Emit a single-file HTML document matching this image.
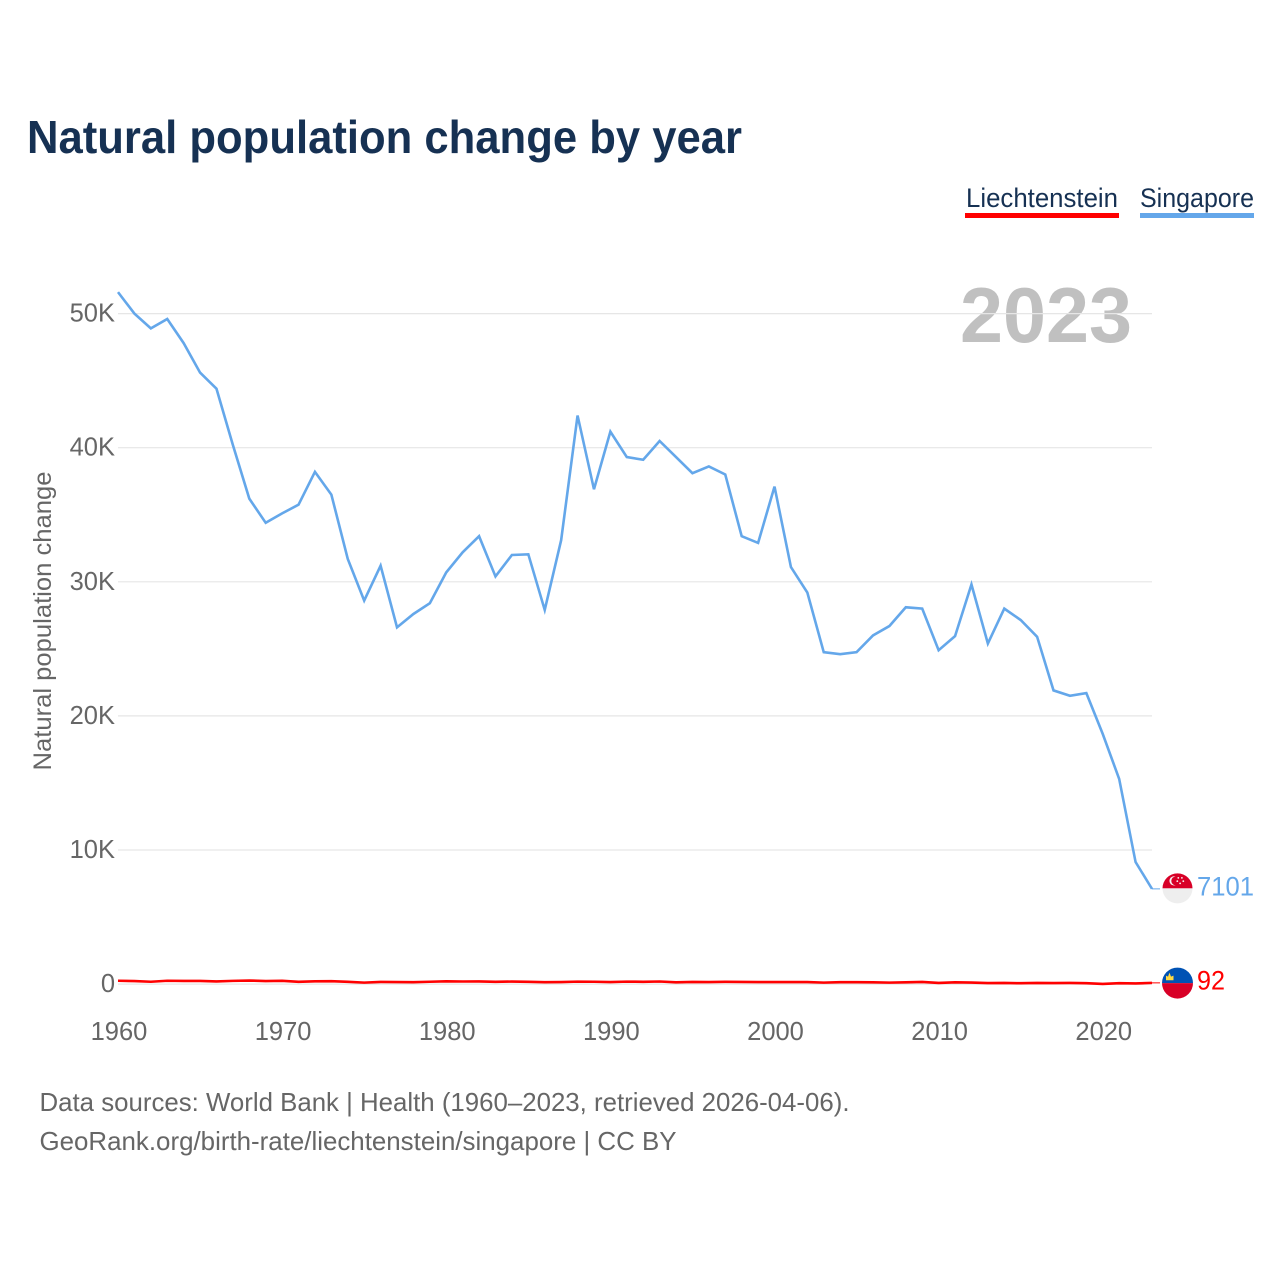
<!DOCTYPE html>
<html lang="en">
<head>
<meta charset="utf-8">
<title>Natural population change by year</title>
<style>
html,body{margin:0;padding:0;background:#fff;width:1280px;height:1280px;overflow:hidden}
svg{display:block;font-family:"Liberation Sans",sans-serif}
</style>
</head>
<body>
<svg id="chart" width="1280" height="1280" viewBox="0 0 1280 1280" xmlns="http://www.w3.org/2000/svg">
  <rect width="1280" height="1280" fill="#ffffff"/>
  <text x="27" y="153" font-size="46" font-weight="700" fill="#163153" textLength="715" lengthAdjust="spacingAndGlyphs">Natural population change by year</text>

  <g>
    <text x="966" y="207" font-size="27" fill="#163153" textLength="152" lengthAdjust="spacingAndGlyphs">Liechtenstein</text>
    <rect x="965" y="213" width="154" height="5" fill="#ff0000"/>
  </g>
  <g>
    <text x="1140" y="207" font-size="27" fill="#163153" textLength="114" lengthAdjust="spacingAndGlyphs">Singapore</text>
    <rect x="1140" y="213" width="114" height="5" fill="#64a7ea"/>
  </g>

  <text x="960" y="342" font-size="78" font-weight="700" fill="#c0c0c0" textLength="172" lengthAdjust="spacingAndGlyphs">2023</text>
  <text transform="translate(51 621) rotate(-90)" text-anchor="middle" font-size="25" fill="#666666" textLength="299" lengthAdjust="spacingAndGlyphs">Natural population change</text>

  <g id="grid"></g>
  <g id="yticks"></g>
  <g id="xticks"></g>
  <g id="series"></g>
  <g id="ends"></g>

  <text x="39.5" y="1111" font-size="26" fill="#666666" textLength="810" lengthAdjust="spacingAndGlyphs">Data sources: World Bank | Health (1960–2023, retrieved 2026-04-06).</text>
  <text x="39.5" y="1150" font-size="26" fill="#666666" textLength="637" lengthAdjust="spacingAndGlyphs">GeoRank.org/birth-rate/liechtenstein/singapore | CC BY</text>
</svg>
<script>
const startYear = 1960;
const singaporeValues = [
  51600,50000,48900,49600,47800,45600,44400,40200,36200,34400,
  35100,35750,38200,36500,31700,28600,31200,26600,27600,28400,
  30700,32200,33400,30400,32000,32050,27900,33100,42400,36900,
  41200,39300,39100,40500,39300,38100,38600,38000,33400,32900,
  37100,31100,29200,24750,24600,24750,26000,26700,28100,28000,
  24900,25950,29800,25400,28000,27150,25900,21900,21500,21700,
  18650,15300,9100,7101
];
const liechtensteinValues = [
  250,230,175,250,235,235,200,240,265,230,
  245,170,210,215,170,110,160,155,140,175,
  210,195,200,170,190,170,140,155,185,175,
  155,185,170,195,130,165,155,170,160,150,
  150,150,150,110,145,145,130,110,135,160,
  90,130,115,75,85,65,85,75,85,70,
  10,70,50,92
];
const yTickValues = [0,10000,20000,30000,40000,50000];
const yTickLabels = ["0","10K","20K","30K","40K","50K"];
const xTickYears = [1960,1970,1980,1990,2000,2010,2020];

const NS = "http://www.w3.org/2000/svg";
function xScale(year){ return 118 + (year - 1960) * (1152 - 118) / 63; }
function yScale(v){ return 984.1 - v * (984.1 - 313.6) / 50000; }
function mk(tag, attrs, parent){
  const el = document.createElementNS(NS, tag);
  for (const k in attrs) el.setAttribute(k, attrs[k]);
  if (parent) parent.appendChild(el);
  return el;
}
function linePath(values){
  return values.map(function(v,i){
    return (i ? "L" : "M") + xScale(startYear + i).toFixed(2) + " " + yScale(v).toFixed(2);
  }).join(" ");
}

const grid = document.getElementById("grid");
const yticks = document.getElementById("yticks");
yTickValues.forEach(function(v,i){
  const y = yScale(v);
  const ln = mk("line",{x1:118,x2:1152,y1:y,y2:y,stroke:"#e6e6e6","stroke-width":1.2},grid);
  
  
  const t = mk("text",{x:115,y:y+8,"text-anchor":"end","font-size":25.5,fill:"#666666"},yticks);
  
  
  t.textContent = yTickLabels[i];
});

const xticks = document.getElementById("xticks");
xTickYears.forEach(function(yr){
  const t = mk("text",{x:xScale(yr)+1,y:1040,"text-anchor":"middle","font-size":25.5,fill:"#666666"},xticks);
  
  
  t.textContent = yr;
});

const series = document.getElementById("series");
const blue = mk("path",{d:linePath(singaporeValues),fill:"none",stroke:"#64a7ea","stroke-width":2.6,"stroke-linejoin":"miter"},series);


const red = mk("path",{d:linePath(liechtensteinValues),fill:"none",stroke:"#ff0000","stroke-width":2.6,"stroke-linejoin":"round"},series);



const ends = document.getElementById("ends");
const lastYear = startYear + singaporeValues.length - 1;
const endX = xScale(lastYear);
const flagX = 1177.5;

/* Singapore end marker */
const sv = singaporeValues[singaporeValues.length - 1];
const sy = yScale(sv);
const sLead = mk("line",{x1:endX,x2:1160,y1:sy,y2:sy,stroke:"#64a7ea","stroke-width":1},ends);


const sFlag = mk("g",{transform:"translate("+flagX+" "+(sy-0.5)+")"},ends);


mk("path",{d:"M-15 0A15 15 0 0 1 15 0Z",fill:"#d80027"},sFlag);
mk("path",{d:"M-15 0A15 15 0 0 0 15 0Z",fill:"#eeeeee"},sFlag);
mk("circle",{cx:-3.5,cy:-7.5,r:4.6,fill:"#f6f6f6"},sFlag);
mk("circle",{cx:-1.8,cy:-7.5,r:4.4,fill:"#d80027"},sFlag);
[[0,-10.5],[3.6,-10.5],[5,-7.2],[1.8,-5],[-1,-7.2]].forEach(function(p){
  mk("circle",{cx:p[0]+0.8,cy:p[1],r:0.9,fill:"#f6f6f6"},sFlag);
});
const sLabel = mk("text",{x:1197,y:sy+6.5,"font-size":27,fill:"#64a7ea",textLength:57,lengthAdjust:"spacingAndGlyphs"},ends);


sLabel.textContent = sv;

/* Liechtenstein end marker */
const lv = liechtensteinValues[liechtensteinValues.length - 1];
const ly = yScale(lv);
const lLead = mk("line",{x1:endX,x2:1160,y1:ly,y2:ly,stroke:"#ff0000","stroke-width":1},ends);


const lFlag = mk("g",{transform:"translate("+flagX+" "+(ly+0.2)+")"},ends);


mk("path",{d:"M-15.5 0A15.5 15.5 0 0 1 15.5 0Z",fill:"#0052b4"},lFlag);
mk("path",{d:"M-15.5 0A15.5 15.5 0 0 0 15.5 0Z",fill:"#d80027"},lFlag);
mk("path",{d:"M-11.5 -2.8V-7.5L-9.5 -6.5L-8 -10.5L-6.5 -6.5L-4 -7.5V-2.8Z",fill:"#ffda44"},lFlag);
const lLabel = mk("text",{x:1197,y:ly+6.5,"font-size":27,fill:"#ff0000",textLength:28,lengthAdjust:"spacingAndGlyphs"},ends);


lLabel.textContent = lv;
</script>
</body>
</html>
